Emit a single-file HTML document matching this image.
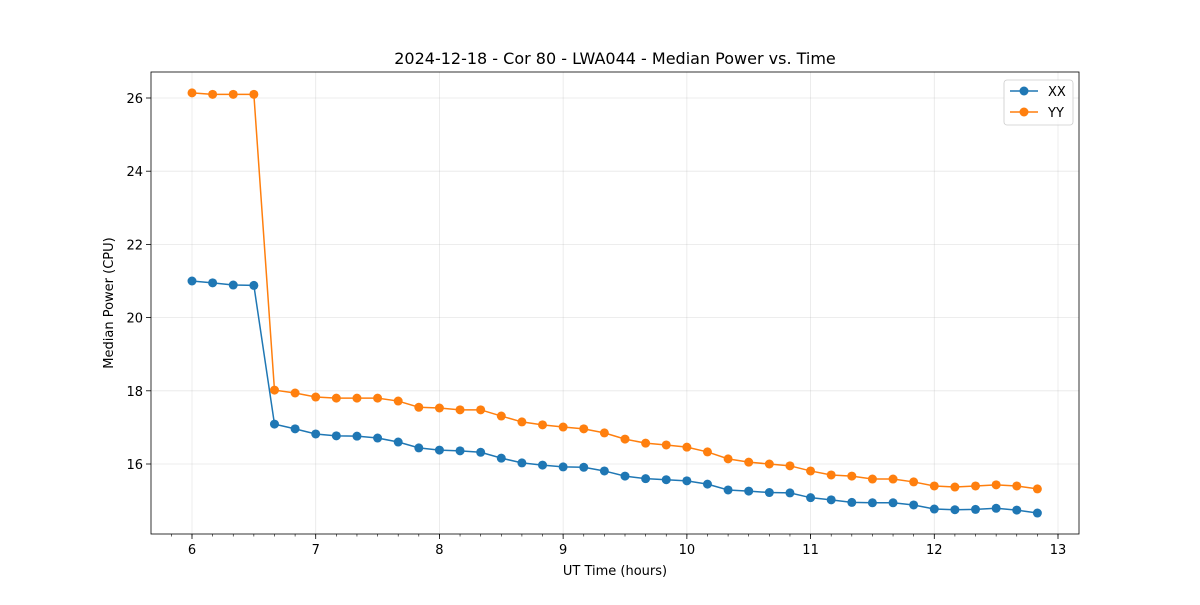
<!DOCTYPE html>
<html><head><meta charset="utf-8"><style>
body{margin:0;background:#fff;font-family:"Liberation Sans","DejaVu Sans",sans-serif}
svg text{font-family:"DejaVu Sans","Liberation Sans",sans-serif}
</style></head><body>
<svg id="chart" width="1200" height="600" xmlns="http://www.w3.org/2000/svg"></svg>
<script>
const times = [];
for (let i = 0; i < 42; i++) times.push(6 + i / 6);
const xxValues = [21.0,20.95,20.89,20.88,17.09,16.96,16.82,16.77,16.76,16.71,16.6,16.44,16.38,16.36,16.32,16.16,16.03,15.97,15.92,15.91,15.81,15.67,15.6,15.57,15.54,15.45,15.29,15.26,15.22,15.21,15.08,15.02,14.95,14.94,14.94,14.88,14.77,14.75,14.76,14.79,14.74,14.66];
const yyValues = [26.14,26.1,26.1,26.1,18.02,17.94,17.83,17.8,17.8,17.8,17.72,17.55,17.53,17.48,17.48,17.31,17.15,17.07,17.01,16.96,16.85,16.68,16.57,16.52,16.46,16.33,16.14,16.05,16.0,15.95,15.81,15.7,15.67,15.59,15.59,15.51,15.4,15.37,15.4,15.43,15.4,15.32];
const xTicks = [6,7,8,9,10,11,12,13];
const yTicks = [16,18,20,22,24,26];

const svg = document.getElementById('chart');
const NS = 'http://www.w3.org/2000/svg';
const L = 151, R = 1079, T = 72, B = 534;
const xs = v => 192 + (v - 6) * (1058 - 192) / 7;
const ys = v => 464 - (v - 16) * 36.6;
function mk(tag, attrs, parent) {
  const e = document.createElementNS(NS, tag);
  for (const k in attrs) e.setAttribute(k, attrs[k]);
  (parent || svg).appendChild(e);
  return e;
}
let t = mk('text', {x: 615, y: 64, 'text-anchor': 'middle', 'font-size': 16, fill: '#000'});


t.textContent = '2024-12-18 - Cor 80 - LWA044 - Median Power vs. Time';
xTicks.forEach(v => {
  const x = xs(v);
  const g = mk('line', {x1: x, x2: x, y1: T, y2: B, stroke: '#b0b0b0', 'stroke-opacity': 0.3, 'stroke-width': 0.8});
  
  
  mk('line', {x1: x, x2: x, y1: B, y2: B + 5, stroke: '#000', 'stroke-width': 0.8});
  const tl = mk('text', {x: x, y: B + 20, 'text-anchor': 'middle', 'font-size': 13, fill: '#000'});
  
  
  tl.textContent = v;
});
for (let i = -2; i <= 42; i++) {
  const x = xs(6 + i / 6);
  if (x < L || x > R) continue;
  mk('line', {x1: x, x2: x, y1: B, y2: B + 2.5, stroke: '#000', 'stroke-width': 0.6});
}
yTicks.forEach(v => {
  const y = ys(v);
  const g = mk('line', {x1: L, x2: R, y1: y, y2: y, stroke: '#b0b0b0', 'stroke-opacity': 0.3, 'stroke-width': 0.8});
  
  
  mk('line', {x1: L - 5, x2: L, y1: y, y2: y, stroke: '#000', 'stroke-width': 0.8});
  const tl = mk('text', {x: L - 8, y: y + 5, 'text-anchor': 'end', 'font-size': 13, fill: '#000'});
  
  
  tl.textContent = v;
});
t = mk('text', {x: 615, y: 575, 'text-anchor': 'middle', 'font-size': 13, fill: '#000'});


t.textContent = 'UT Time (hours)';
t = mk('text', {x: 113, y: 303, 'text-anchor': 'middle', 'font-size': 13, fill: '#000', transform: 'rotate(-90 113 303)'});


t.textContent = 'Median Power (CPU)';
function series(vals, color, name) {
  const g = mk('g', {});
  
  
  mk('polyline', {points: vals.map((v, i) => xs(times[i]) + ',' + ys(v)).join(' '), fill: 'none', stroke: color, 'stroke-width': 1.5}, g);
  vals.forEach((v, i) => {
    const c = mk('circle', {cx: xs(times[i]), cy: ys(v), r: 4.5, fill: color}, g);
    
    
  });
}
series(xxValues, '#1f77b4', 'series-xx');
series(yyValues, '#ff7f0e', 'series-yy');
const fr = mk('rect', {x: L, y: T, width: R - L, height: B - T, fill: 'none', stroke: '#000', 'stroke-width': 0.8});


const lg = mk('g', {});


mk('rect', {x: 1004, y: 80, width: 69, height: 45, rx: 3, fill: '#fff', 'fill-opacity': 0.8, stroke: '#ccc', 'stroke-width': 0.8}, lg);
[['XX', '#1f77b4', 91], ['YY', '#ff7f0e', 112]].forEach(([n, c, y]) => {
  const e = mk('g', {}, lg);
  
  
  mk('line', {x1: 1010, x2: 1038, y1: y, y2: y, stroke: c, 'stroke-width': 1.5}, e);
  mk('circle', {cx: 1024, cy: y, r: 4.5, fill: c}, e);
  const tx = mk('text', {x: 1048, y: y + 5, 'font-size': 13, fill: '#000'}, e);
  tx.textContent = n;
});
</script>
</body></html>
